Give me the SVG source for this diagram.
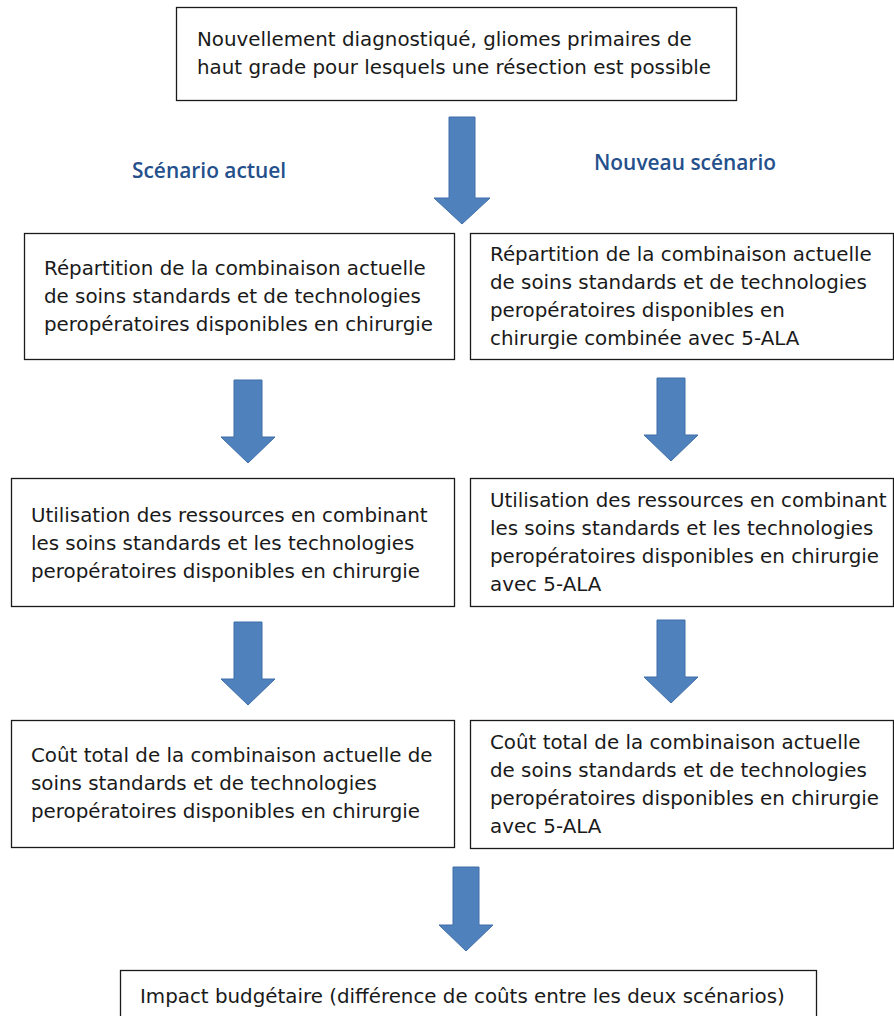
<svg xmlns="http://www.w3.org/2000/svg" width="894" height="1016" viewBox="0 0 894 1016">
<style>
.box{fill:#fff;stroke:#1a1a1a;stroke-width:1.3}
.t{font-family:"DejaVu Sans",sans-serif;font-size:19.85px;fill:#1a1a1a}
.lbl{font-family:"Open Sans",sans-serif;font-size:20.9px;font-weight:600;fill:#24508c}
.arr{fill:#4f81bd;stroke:#3f6fa8;stroke-width:1}
</style>
<rect width="894" height="1016" fill="#fff"/>
<g id="n-top"><rect class="box" x="176.5" y="7.5" width="560" height="93"/>
<text class="t" x="197" y="46">Nouvellement diagnostiqué, gliomes primaires de</text>
<text class="t" x="197" y="74">haut grade pour lesquels une résection est possible</text></g>
<g id="lbl-actuel"><text class="lbl" x="132" y="178">Scénario actuel</text></g>
<g id="lbl-nouveau"><text class="lbl" x="594" y="170">Nouveau scénario</text></g>
<g id="n-l1"><rect class="box" x="24.5" y="233.5" width="430" height="126"/>
<text class="t" x="44" y="275">Répartition de la combinaison actuelle</text>
<text class="t" x="44" y="303">de soins standards et de technologies</text>
<text class="t" x="44" y="331">peropératoires disponibles en chirurgie</text></g>
<g id="n-r1"><rect class="box" x="470.5" y="233.5" width="423" height="126"/>
<text class="t" x="490" y="261">Répartition de la combinaison actuelle</text>
<text class="t" x="490" y="289">de soins standards et de technologies</text>
<text class="t" x="490" y="317">peropératoires disponibles en</text>
<text class="t" x="490" y="345">chirurgie combinée avec 5-ALA</text></g>
<g id="n-l2"><rect class="box" x="11.5" y="478.5" width="443" height="128"/>
<text class="t" x="31" y="522">Utilisation des ressources en combinant</text>
<text class="t" x="31" y="550">les soins standards et les technologies</text>
<text class="t" x="31" y="578">peropératoires disponibles en chirurgie</text></g>
<g id="n-r2"><rect class="box" x="470.5" y="478.5" width="423" height="128"/>
<text class="t" x="490" y="507">Utilisation des ressources en combinant</text>
<text class="t" x="490" y="535">les soins standards et les technologies</text>
<text class="t" x="490" y="563">peropératoires disponibles en chirurgie</text>
<text class="t" x="490" y="591">avec 5-ALA</text></g>
<g id="n-l3"><rect class="box" x="11.5" y="720.5" width="443" height="127"/>
<text class="t" x="31" y="762">Coût total de la combinaison actuelle de</text>
<text class="t" x="31" y="790">soins standards et de technologies</text>
<text class="t" x="31" y="818">peropératoires disponibles en chirurgie</text></g>
<g id="n-r3"><rect class="box" x="470.5" y="720.5" width="423" height="128"/>
<text class="t" x="490" y="749">Coût total de la combinaison actuelle</text>
<text class="t" x="490" y="777">de soins standards et de technologies</text>
<text class="t" x="490" y="805">peropératoires disponibles en chirurgie</text>
<text class="t" x="490" y="833">avec 5-ALA</text></g>
<g id="n-bottom"><rect class="box" x="120.5" y="970.5" width="696" height="60"/>
<text class="t" x="140" y="1003">Impact budgétaire (différence de coûts entre les deux scénarios)</text></g>
<g id="connectors">
<path class="arr" d="M449,117 H475 V198 H490 L462,224 L434,198 H449 Z"/>
<path class="arr" d="M234,380 H262 V437 H275 L248,463 L221,437 H234 Z"/>
<path class="arr" d="M234,622 H262 V679 H275 L248,705 L221,679 H234 Z"/>
<path class="arr" d="M657,378 H685 V435 H698 L671,461 L644,435 H657 Z"/>
<path class="arr" d="M657,620 H685 V677 H698 L671,703 L644,677 H657 Z"/>
<path class="arr" d="M453,867 H479 V925 H493 L466,951 L439,925 H453 Z"/>
</g>
</svg>
